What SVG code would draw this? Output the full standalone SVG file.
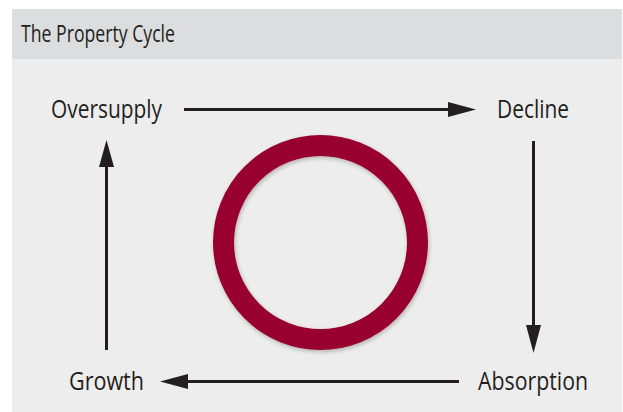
<svg xmlns="http://www.w3.org/2000/svg" width="623" height="412" viewBox="0 0 623 412">
  <defs>
    <style>
      .label { font-family: "Open Sans", "Noto Sans", "Liberation Sans", sans-serif; font-size: 25px; fill: #231f20; }
      .title { font-family: "Open Sans", "Noto Sans", "Liberation Sans", sans-serif; font-size: 24px; fill: #231f20; }
      .conn { stroke: #231f20; stroke-width: 3; fill: none; }
      .head { fill: #231f20; }
    </style>
    <filter id="soft" x="-20%" y="-20%" width="140%" height="140%">
      <feGaussianBlur in="SourceAlpha" stdDeviation="2"/>
      <feOffset dx="1" dy="2"/>
      <feComponentTransfer><feFuncA type="linear" slope="0.25"/></feComponentTransfer>
      <feMerge><feMergeNode/><feMergeNode in="SourceGraphic"/></feMerge>
    </filter>
  </defs>

  <!-- page and panel -->
  <rect x="0" y="0" width="623" height="412" fill="#ffffff"/>
  <rect x="12" y="9" width="610" height="403" fill="#ededed"/>
  <rect x="12" y="9" width="610" height="50" fill="#dcdddf"/>
  <text class="title" x="21" y="42" textLength="154" lengthAdjust="spacingAndGlyphs">The Property Cycle</text>

  <!-- central ring -->
  <g id="ring">
    <circle cx="320.5" cy="242.5" r="97" fill="none" stroke="#990030" stroke-width="21" filter="url(#soft)"/>
  </g>

  <!-- nodes -->
  <g id="oversupply">
    <text class="label" x="51" y="118" textLength="111" lengthAdjust="spacingAndGlyphs">Oversupply</text>
  </g>
  <g id="decline">
    <text class="label" x="497" y="118" textLength="72" lengthAdjust="spacingAndGlyphs">Decline</text>
  </g>
  <g id="absorption">
    <text class="label" x="478" y="390" textLength="110" lengthAdjust="spacingAndGlyphs">Absorption</text>
  </g>
  <g id="growth">
    <text class="label" x="69" y="390" textLength="75" lengthAdjust="spacingAndGlyphs">Growth</text>
  </g>

  <!-- connectors -->
  <g id="connectors">
    <line class="conn" x1="184" y1="109.5" x2="450" y2="109.5"/>
    <polygon class="head" points="448,102 476,109.5 448,117"/>

    <line class="conn" x1="533.5" y1="141" x2="533.5" y2="327"/>
    <polygon class="head" points="526,325 533.5,353 541,325"/>

    <line class="conn" x1="459" y1="381.5" x2="186" y2="381.5"/>
    <polygon class="head" points="188,374 160,381.5 188,389"/>

    <line class="conn" x1="106.5" y1="350" x2="106.5" y2="165"/>
    <polygon class="head" points="99,167 106.5,140 114,167"/>
  </g>
</svg>
